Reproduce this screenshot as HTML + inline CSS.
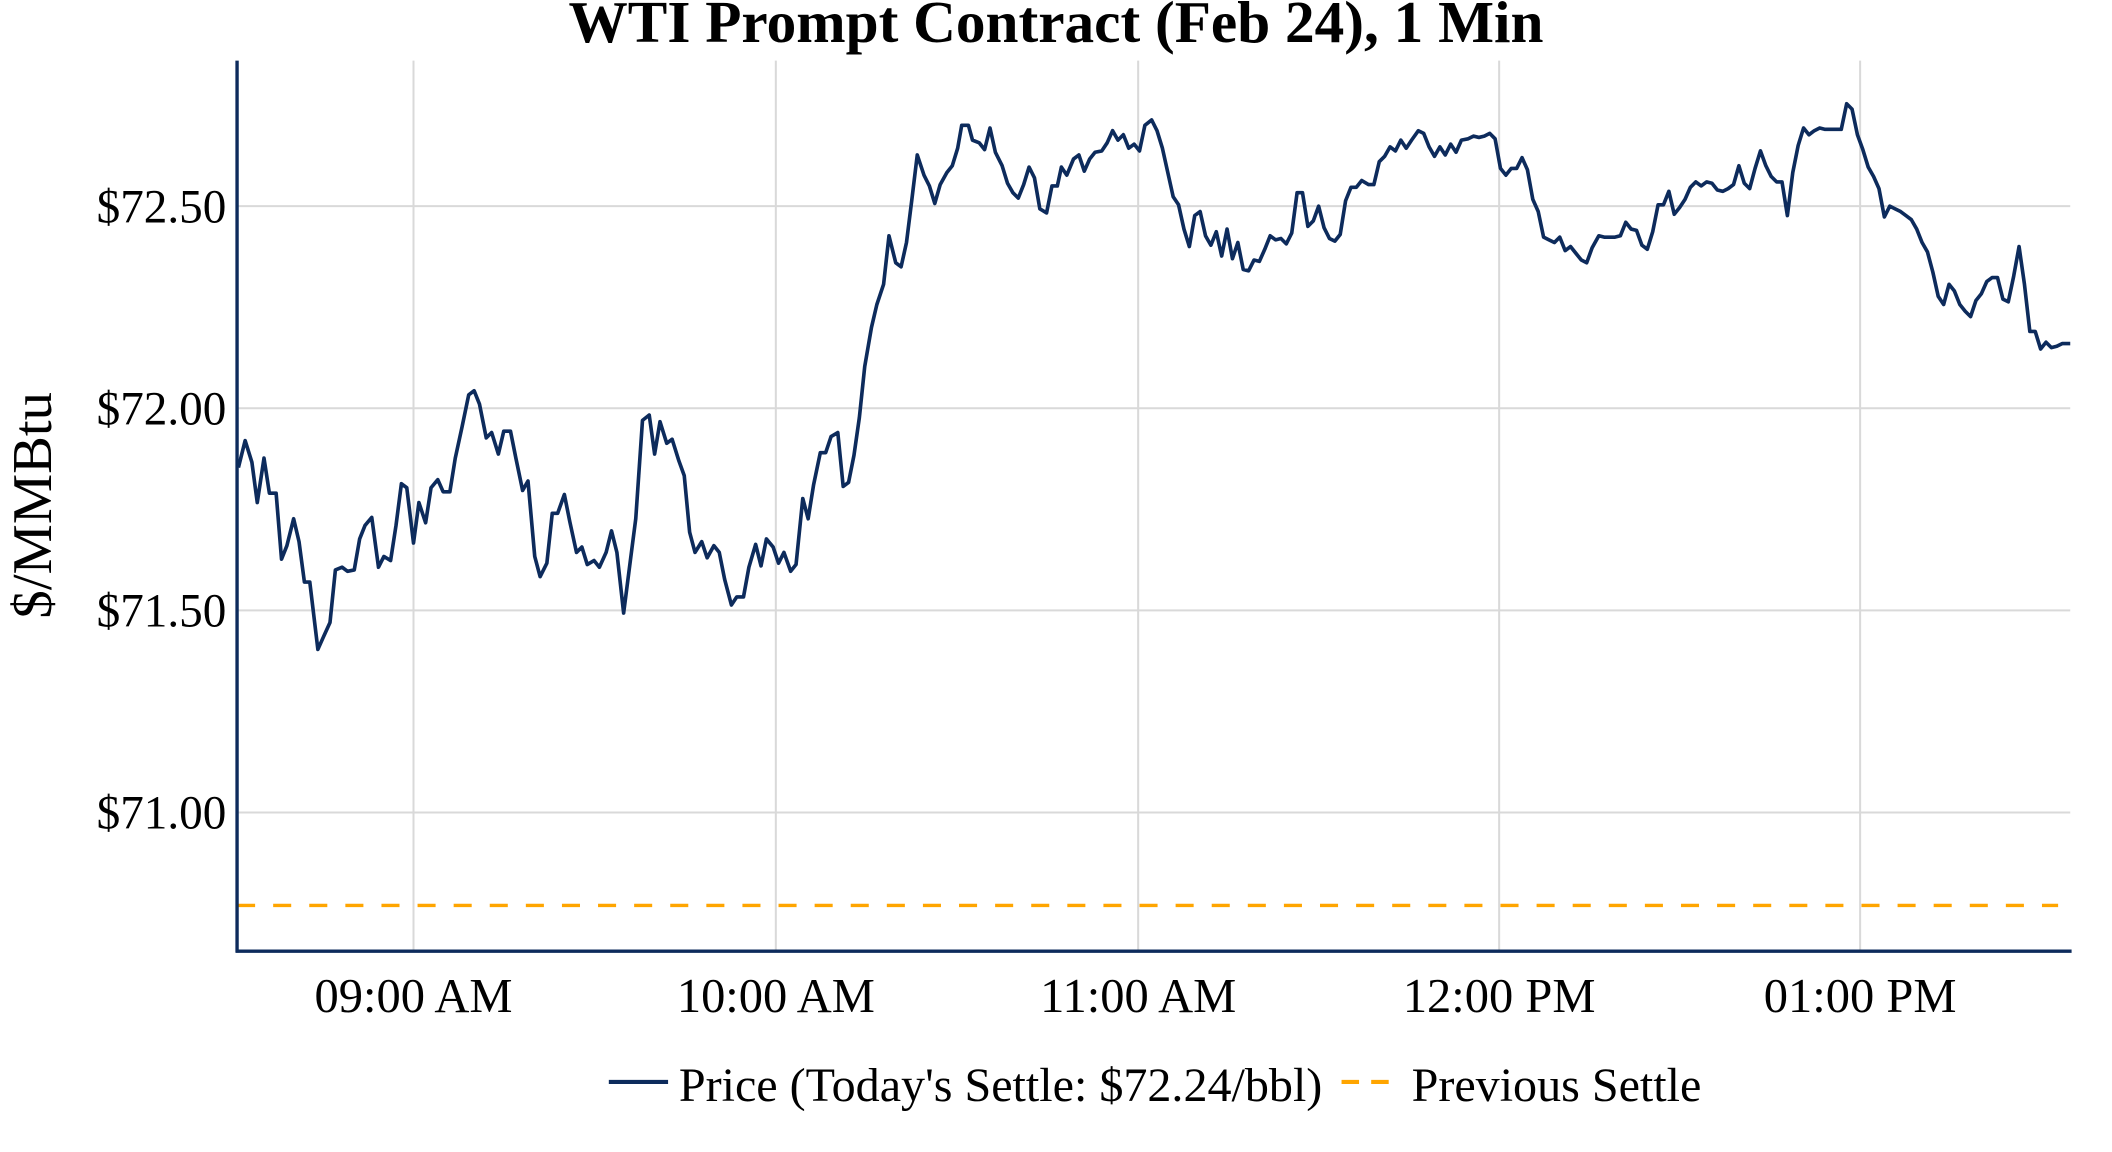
<!DOCTYPE html>
<html><head><meta charset="utf-8"><style>
html,body{margin:0;padding:0;background:#fff;}
svg{display:block;}
text{font-family:"Liberation Serif",serif;fill:#000;}
</style></head><body>
<svg width="2112" height="1152" viewBox="0 0 1568 855" preserveAspectRatio="none" xmlns="http://www.w3.org/2000/svg">
<rect width="1568" height="855" fill="#fff"/>
<g stroke="#d9d9d9" stroke-width="1.5">
<line x1="176" y1="153" x2="1537" y2="153"/>
<line x1="176" y1="303" x2="1537" y2="303"/>
<line x1="176" y1="453" x2="1537" y2="453"/>
<line x1="176" y1="603" x2="1537" y2="603"/>
<line x1="307" y1="45" x2="307" y2="706"/>
<line x1="576" y1="45" x2="576" y2="706"/>
<line x1="845" y1="45" x2="845" y2="706"/>
<line x1="1113" y1="45" x2="1113" y2="706"/>
<line x1="1381" y1="45" x2="1381" y2="706"/>
</g>
<line x1="176" y1="672" x2="1528" y2="672" stroke="#ffa500" stroke-width="2.5" stroke-dasharray="13.4,13.4"/>
<polyline fill="none" stroke="#0d2b5c" stroke-width="2.7" stroke-linejoin="round" points="177,347 182,327 187,343 191,373 196,340 200,366 205,366 209,415 213,405 218,385 222,402 226,432 230,432 236,482 240,473 245,462 249,423 254,421 258,424 263,423 267,400 271,390 276,384 281,421 285,413 290,416 294,390 298,359 302,362 307,403 311,373 316,388 320,362 325,356 329,365 334,365 338,340 343,317 348,293 352,290 356,300 361,325 365,321 370,337 374,320 379,320 383,340 388,364 392,357 397,413 401,428 406,418 410,381 414,381 419,367 423,387 428,410 432,406 436,419 441,416 445,421 450,410 454,394 458,410 463,455 468,416 472,385 477,312 482,308 486,337 490,313 495,329 499,326 504,342 508,353 512,395 516,410 521,402 525,414 530,405 534,410 538,430 543,449 547,443 552,443 556,421 561,404 565,420 569,400 574,406 578,418 582,410 587,424 591,419 596,370 600,385 604,360 609,336 613,336 617,324 622,321 626,361 630,358 634,338 638,310 642,272 647,243 651,226 656,211 660,175 665,195 669,198 673,180 677,148 681,115 686,130 690,138 694,151 698,137 703,128 707,123 711,110 714,93 719,93 722,104 727,106 731,111 735,95 739,113 744,123 748,136 752,143 756,147 760,137 764,124 768,132 772,155 777,158 781,138 785,138 788,124 792,130 797,118 801,115 805,127 809,118 813,113 818,112 822,106 826,97 830,104 834,100 838,110 842,107 846,112 850,93 855,89 859,97 863,110 867,128 871,146 875,152 879,170 883,183 887,160 891,157 895,175 899,182 903,172 907,190 911,170 915,192 919,180 923,200 927,201 931,193 935,194 939,185 943,175 947,178 951,177 955,181 959,173 963,143 967,143 971,168 975,164 979,153 983,169 987,177 991,179 995,174 999,149 1003,139 1007,139 1011,134 1016,137 1020,137 1024,120 1028,116 1032,109 1036,112 1040,104 1044,110 1048,104 1053,97 1057,99 1061,109 1065,116 1069,109 1073,115 1077,107 1081,113 1085,104 1090,103 1094,101 1098,102 1102,101 1106,99 1110,103 1114,125 1118,130 1122,125 1126,125 1130,117 1134,126 1138,148 1142,157 1146,176 1150,178 1154,180 1158,176 1162,186 1166,183 1170,188 1174,193 1178,195 1182,184 1187,175 1191,176 1195,176 1199,176 1203,175 1207,165 1211,170 1215,171 1219,182 1223,185 1227,172 1231,152 1235,152 1239,142 1243,159 1247,154 1251,148 1255,139 1259,135 1263,138 1267,135 1271,136 1275,141 1279,142 1283,140 1287,137 1291,123 1295,136 1299,140 1303,125 1307,112 1311,123 1315,131 1319,135 1323,135 1327,160 1331,128 1335,108 1339,95 1343,100 1347,97 1351,95 1355,96 1359,96 1363,96 1367,96 1371,77 1375,81 1379,100 1383,111 1387,124 1391,131 1395,140 1399,161 1403,153 1407,155 1411,157 1415,160 1419,163 1423,170 1427,180 1431,187 1435,202 1439,220 1443,226 1447,211 1451,216 1455,226 1459,231 1463,235 1467,223 1471,218 1475,209 1479,206 1483,206 1487,222 1491,224 1495,205 1499,183 1503,211 1507,246 1511,246 1515,259 1519,254 1523,258 1527,257 1531,255 1535,255 1537,255"/>
<line x1="176" y1="45" x2="176" y2="707" stroke="#0d2b5c" stroke-width="2.5"/>
<line x1="175" y1="706" x2="1538" y2="706" stroke="#0d2b5c" stroke-width="2.5"/>
<g font-size="35" text-anchor="end">
<text x="168" y="165">$72.50</text>
<text x="168" y="315">$72.00</text>
<text x="168" y="465">$71.50</text>
<text x="168" y="615">$71.00</text>
</g>
<g font-size="36" text-anchor="middle">
<text x="307" y="751">09:00 AM</text>
<text x="576" y="751">10:00 AM</text>
<text x="845" y="751">11:00 AM</text>
<text x="1113" y="751">12:00 PM</text>
<text x="1381" y="751">01:00 PM</text>
</g>
<text x="784" y="31" font-size="44" font-weight="bold" text-anchor="middle">WTI Prompt Contract (Feb 24), 1 Min</text>
<text transform="translate(38,375) rotate(-90)" font-size="42" text-anchor="middle">$/MMBtu</text>
<line x1="452" y1="803" x2="496" y2="803" stroke="#0d2b5c" stroke-width="3"/>
<text x="504" y="817" font-size="35.7">Price (Today's Settle: $72.24/bbl)</text>
<line x1="996" y1="803" x2="1040" y2="803" stroke="#ffa500" stroke-width="3" stroke-dasharray="13,9"/>
<text x="1048" y="817" font-size="35.7">Previous Settle</text>
</svg>
</body></html>
